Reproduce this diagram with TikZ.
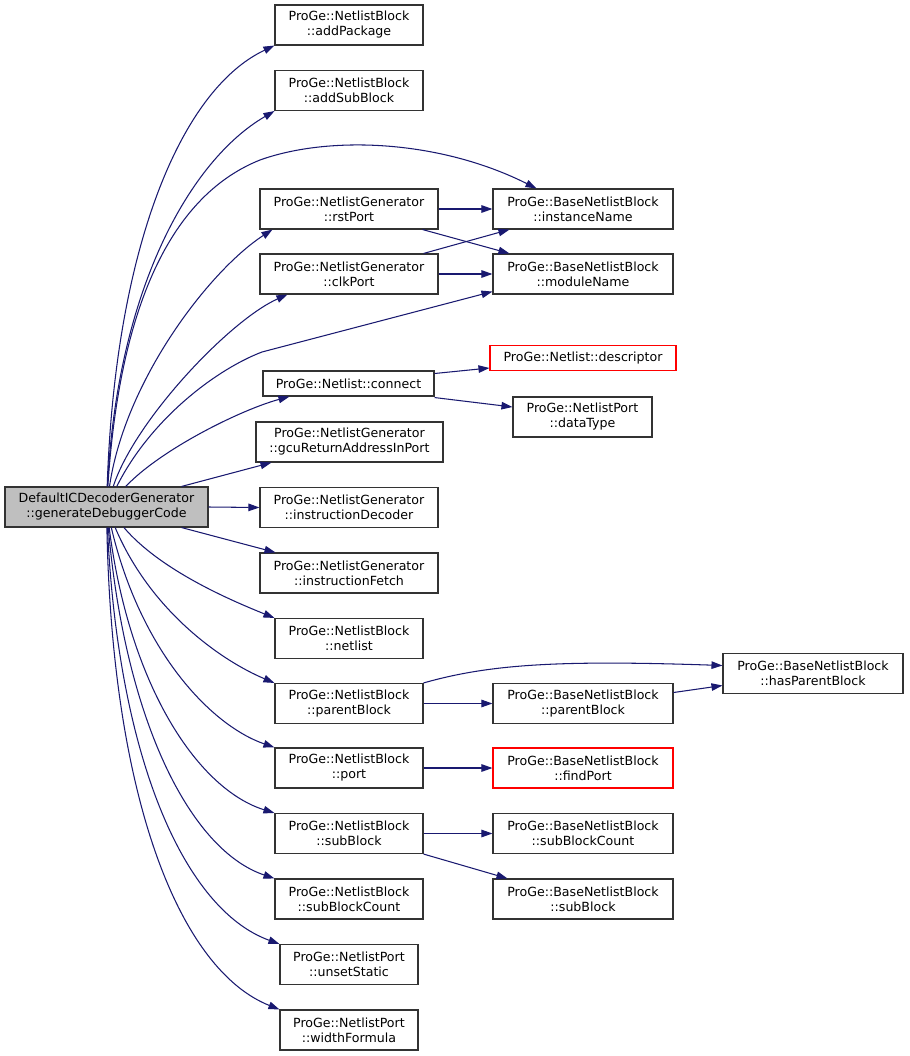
\documentclass[tikz,border=0pt]{standalone}
\usepackage{fontspec}
\setmainfont{DejaVu Sans}
\usetikzlibrary{arrows.meta}
\definecolor{navy}{HTML}{191970}
\definecolor{rootgray}{HTML}{BFBFBF}
\begin{document}
\begin{tikzpicture}[x=1pt,y=-1pt,
  box/.style={draw=black!80, line width=1.1pt, fill=white, align=center, inner sep=0pt,
    minimum height=40pt, font=\fontsize{12.6}{15}\selectfont},
  rbox/.style={box, draw=red},
  edge/.style={draw=navy, line width=1.05pt, -{Triangle[length=11pt,width=7.5pt]}}]
\useasboundingbox[fill=white] (0,0) rectangle (909,1056);

\node[box, fill=rootgray, minimum width=203pt] (root) at (106.5,507) {DefaultICDecoderGenerator\\::generateDebuggerCode};

\node[box, minimum width=148pt] (addPkg) at (349,25) {ProGe::NetlistBlock\\::addPackage};
\node[box, minimum width=148pt] (addSub) at (349,90.5) {ProGe::NetlistBlock\\::addSubBlock};
\node[box, minimum width=178pt] (rst) at (349,209) {ProGe::NetlistGenerator\\::rstPort};
\node[box, minimum width=178pt] (clk) at (349,274) {ProGe::NetlistGenerator\\::clkPort};
\node[box, minimum width=180pt] (inst) at (583,209) {ProGe::BaseNetlistBlock\\::instanceName};
\node[box, minimum width=180pt] (mod) at (583,274) {ProGe::BaseNetlistBlock\\::moduleName};
\node[box, minimum width=171pt, minimum height=25pt] (conn) at (348.5,383.5) {ProGe::Netlist::connect};
\node[rbox, minimum width=186pt, minimum height=25pt] (desc) at (583,358) {ProGe::Netlist::descriptor};
\node[box, minimum width=139pt] (dtype) at (582.5,417) {ProGe::NetlistPort\\::dataType};
\node[box, minimum width=187pt] (gcu) at (349.5,442) {ProGe::NetlistGenerator\\::gcuReturnAddressInPort};
\node[box, minimum width=178pt] (idec) at (349,507.5) {ProGe::NetlistGenerator\\::instructionDecoder};
\node[box, minimum width=178pt] (ifet) at (349,573) {ProGe::NetlistGenerator\\::instructionFetch};
\node[box, minimum width=148pt] (nlist) at (349,638.5) {ProGe::NetlistBlock\\::netlist};
\node[box, minimum width=148pt] (npar) at (349,703.5) {ProGe::NetlistBlock\\::parentBlock};
\node[box, minimum width=180pt] (bpar) at (583,703.5) {ProGe::BaseNetlistBlock\\::parentBlock};
\node[box, minimum width=180pt] (hasp) at (813,673.5) {ProGe::BaseNetlistBlock\\::hasParentBlock};
\node[box, minimum width=148pt] (port) at (349,768) {ProGe::NetlistBlock\\::port};
\node[rbox, minimum width=180pt] (find) at (583,768) {ProGe::BaseNetlistBlock\\::findPort};
\node[box, minimum width=148pt] (nsub) at (349,833.5) {ProGe::NetlistBlock\\::subBlock};
\node[box, minimum width=180pt] (bsbc) at (583,833.5) {ProGe::BaseNetlistBlock\\::subBlockCount};
\node[box, minimum width=148pt] (nsbc) at (349,899) {ProGe::NetlistBlock\\::subBlockCount};
\node[box, minimum width=180pt] (bsub) at (583,899) {ProGe::BaseNetlistBlock\\::subBlock};
\node[box, minimum width=138pt] (unset) at (349,964.5) {ProGe::NetlistPort\\::unsetStatic};
\node[box, minimum width=138pt] (wform) at (349,1030) {ProGe::NetlistPort\\::widthFormula};

% edges from root (upper)
\draw[edge] (root) .. controls (115,250) and (180,90) .. (addPkg.south west);
\draw[edge] (root) .. controls (117,290) and (190,160) .. (addSub.south west);
\draw[edge] (root) .. controls (118,330) and (160,200) .. (260,160) .. controls (330,135) and (440,140) .. ([xshift=44pt]inst.north west);
\draw[edge] (root) .. controls (125,380) and (210,270) .. ([xshift=13pt]rst.south west);
\draw[edge] (root) .. controls (135,420) and (230,320) .. ([xshift=28pt]clk.south west);
\draw[edge] (root) .. controls (150,420) and (215,370) .. (262,352) -- ([yshift=3pt]mod.south west);
\draw[edge] (root) .. controls (160,450) and (240,410) .. ([xshift=27pt]conn.south west);
\draw[edge] ([xshift=-27pt]root.north east) -- ([xshift=16pt]gcu.south west);
\draw[edge] (root.east) -- (idec.west);
\draw[edge] ([xshift=-27pt]root.south east) -- ([xshift=16pt]ifet.north west);
% edges from root (lower)
\draw[edge] (root) .. controls (160,570) and (230,600) .. (nlist.north west);
\draw[edge] (root) .. controls (150,610) and (220,660) .. (npar.north west);
\draw[edge] (root) .. controls (140,650) and (210,725) .. (port.north west);
\draw[edge] (root) .. controls (130,690) and (200,790) .. (nsub.north west);
\draw[edge] (root) .. controls (125,720) and (190,850) .. (nsbc.north west);
\draw[edge] (root) .. controls (118,760) and (185,910) .. (unset.north west);
\draw[edge] (root) .. controls (112,800) and (180,970) .. (wform.north west);

% second level
\draw[edge] (rst.east) -- (inst.west);
\draw[edge] ([xshift=-16pt]rst.south east) -- ([xshift=17pt]mod.north west);
\draw[edge] ([xshift=-15pt]clk.north east) -- ([xshift=17pt]inst.south west);
\draw[edge] (clk.east) -- (mod.west);
\draw[edge] ([yshift=10pt]conn.east) -- ([yshift=-10pt]desc.west);
\draw[edge] ([yshift=-1pt]conn.south east) -- ([yshift=10pt]dtype.west);
\draw[edge] (npar.north east) .. controls (490,664) and (560,660) .. ([yshift=8pt]hasp.west);
\draw[edge] (npar.east) -- (bpar.west);
\draw[edge] ([yshift=11pt]bpar.east) -- ([yshift=-12pt]hasp.west);
\draw[edge] (port.east) -- (find.west);
\draw[edge] (nsub.east) -- (bsbc.west);
\draw[edge] (nsub.south east) -- ([xshift=15pt]bsub.north west);
\end{tikzpicture}
\end{document}
